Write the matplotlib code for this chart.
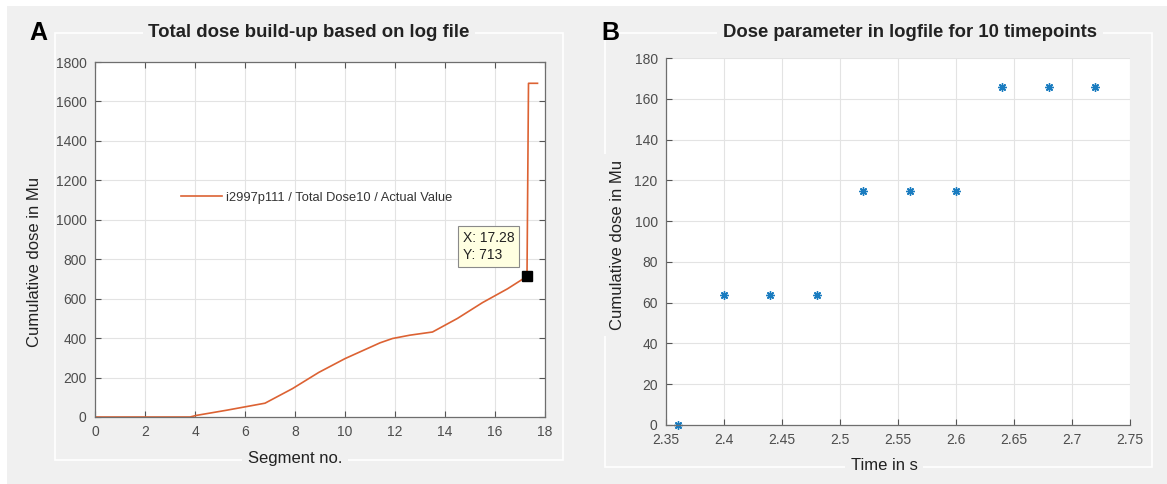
import numpy as np
import matplotlib
matplotlib.use("Agg")
import matplotlib.pyplot as plt
from matplotlib.patches import Rectangle
from matplotlib.ticker import FormatStrFormatter, MultipleLocator

plt.rcParams['font.family'] = ['Liberation Sans', 'DejaVu Sans']

# log file: cumulative dose per segment
seg_no = [0, 3.8, 4.05, 5.25, 6.8, 7.9, 8.95, 10.0, 11.4, 11.9, 12.6, 13.5,
          14.5, 15.5, 16.5, 17.28, 17.34, 17.7]
seg_dose = [0, 0, 8, 34, 70, 144, 226, 296, 376, 398, 415, 431,
            500, 580, 650, 713, 1692, 1692]
tip_x, tip_y = 17.28, 713

# dose parameter sampled at 10 time points
t_s = [2.36, 2.40, 2.44, 2.48, 2.52, 2.56, 2.60, 2.64, 2.68, 2.72]
dose_t = [0, 64, 64, 64, 115, 115, 115, 166, 166, 166]

W, H = 1167, 484
BG = '#f0f0f0'
ORANGE = '#dc6233'
BLUE = '#1a7cc0'
TICKC = '#4d4d4d'


def fx(px):
    return px / W


def fy(py):
    return 1 - py / H


fig = plt.figure(figsize=(W / 100, H / 100), dpi=100, facecolor='white')
fig.patches.append(Rectangle((fx(7), 0), 1 - fx(7), fy(6), transform=fig.transFigure,
                             facecolor=BG, edgecolor='none', zorder=-10))

# white panel frames
for x0, y0, x1, y1 in [(55, 33, 563, 460), (605, 33, 1152, 467)]:
    fig.patches.append(Rectangle((fx(x0), fy(y1)), fx(x1) - fx(x0), fy(y0) - fy(y1),
                                 transform=fig.transFigure, fill=False,
                                 edgecolor='white', lw=1.2, zorder=-5))


def style_axes(ax):
    ax.set_facecolor('white')
    ax.grid(True, color='#e3e3e3', lw=0.8)
    ax.set_axisbelow(True)
    ax.tick_params(direction='in', length=4, width=0.8, colors='#555555',
                   labelcolor=TICKC, labelsize=10, pad=6)
    for s in ax.spines.values():
        s.set_color('#6e6e6e')
        s.set_linewidth(0.9)


lbl_box = dict(facecolor=BG, edgecolor='none', pad=4)

# ---- A ----
axA = fig.add_axes([fx(95), fy(417), fx(545) - fx(95), fy(62) - fy(417)])
style_axes(axA)
axA.plot(seg_no, seg_dose, color=ORANGE, lw=1.2,
         label='i2997p111 / Total Dose10 / Actual Value')
axA.plot([tip_x], [tip_y], 's', color='black', ms=6.5)
axA.set_xlim(0, 18)
axA.set_ylim(0, 1800)
axA.xaxis.set_major_locator(MultipleLocator(2))
axA.yaxis.set_major_locator(MultipleLocator(200))
axA.tick_params(top=True, right=True)
axA.legend(loc='center left', bbox_to_anchor=(0.165, 0.617), frameon=False,
           fontsize=9.3, handlelength=3.2, handletextpad=0.3,
           labelcolor='#333333')
axA.text(14.72, 866, f'X: {tip_x}\nY: {tip_y}', fontsize=10, color='#222222',
         va='center', ha='left', linespacing=1.3,
         bbox=dict(facecolor='#ffffe1', edgecolor='#8a8a8a', lw=0.8,
                   boxstyle='square,pad=0.35'))

fig.text(fx(309), fy(33), 'Total dose build-up based on log file', ha='center',
         va='center', fontsize=13.4, fontweight='bold', color='#222222', bbox=lbl_box)
fig.text(fx(295), fy(458), 'Segment no.', ha='center', va='center',
         fontsize=12, color='#222222', bbox=lbl_box)
fig.text(fx(35), fy(262), 'Cumulative dose in Mu', ha='center', va='center',
         rotation=90, fontsize=12, color='#222222', bbox=lbl_box)
fig.text(fx(38), fy(33), 'A', ha='center', va='center', fontsize=18,
         fontweight='bold', color='black')

# ---- B ----
axB = fig.add_axes([fx(666), fy(425), fx(1130) - fx(666), fy(58) - fy(425)])
style_axes(axB)
axB.spines['top'].set_visible(False)
axB.spines['right'].set_visible(False)
axB.plot(t_s, dose_t, linestyle='none', marker=(8, 2, 0), ms=6, mew=1.0,
         color=BLUE, clip_on=False)
axB.set_xlim(2.35, 2.75)
axB.set_ylim(0, 180)
axB.set_xticks(np.arange(2.35, 2.751, 0.05))
axB.xaxis.set_major_formatter(FormatStrFormatter('%g'))
axB.yaxis.set_major_locator(MultipleLocator(20))

fig.text(fx(910), fy(33), 'Dose parameter in logfile for 10 timepoints', ha='center',
         va='center', fontsize=13.3, fontweight='bold', color='#222222', bbox=lbl_box)
fig.text(fx(884), fy(465), 'Time in s', ha='center', va='center',
         fontsize=12, color='#222222', bbox=lbl_box)
fig.text(fx(617), fy(245), 'Cumulative dose in Mu', ha='center', va='center',
         rotation=90, fontsize=12, color='#222222', bbox=lbl_box)
fig.text(fx(610), fy(33), 'B', ha='center', va='center', fontsize=18,
         fontweight='bold', color='black')

fig.savefig('out.png', dpi=100, facecolor=fig.get_facecolor())
